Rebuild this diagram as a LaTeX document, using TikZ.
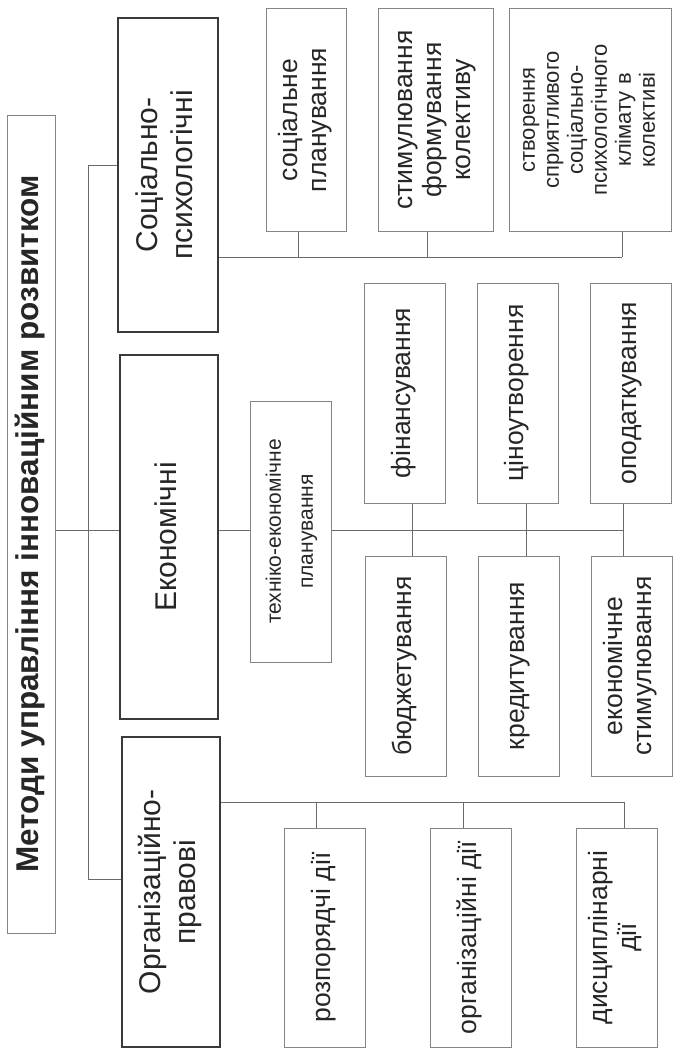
\documentclass[tikz,border=0pt]{standalone}
\usepackage{fontspec}
\setmainfont{Liberation Sans}
\usepackage{graphicx}

\definecolor{boxgray}{HTML}{3A3A3A}
\definecolor{linegray}{HTML}{858585}
\definecolor{linkgray}{HTML}{6A6A6A}
\definecolor{textgray}{HTML}{262626}

\newcommand{\vlabel}[1]{\rotatebox{90}{\begin{tabular}{@{}c@{}}#1\end{tabular}}}
\newcommand{\titlefont}{\fontsize{31.5}{36}\selectfont\bfseries}
\newcommand{\groupfont}{\fontsize{30}{35}\selectfont}
\newcommand{\itemfont}{\fontsize{26.5}{29}\selectfont}
\newcommand{\techfont}{\fontsize{21}{32}\selectfont}
\newcommand{\smallfont}{\fontsize{22}{24}\selectfont}

\tikzset{
  boxsize/.style 2 args={minimum width=#1pt, minimum height=#2pt},
  mainbox/.style={draw=boxgray, line width=2.6pt, inner sep=0pt, text=textgray},
  itembox/.style={draw=linegray, line width=1pt, inner sep=0pt, text=textgray},
  link/.style={draw=linkgray, line width=0.9pt},
}

\begin{document}
\begin{tikzpicture}[x=1pt,y=-1pt]
% Background
\fill[white] (0,0) rectangle (675,1049);
\useasboundingbox (0,0) rectangle (675,1049);

% Title
\node[itembox, boxsize={48}{818}, font=\titlefont] (title) at (31,524) {\vlabel{Методи управління інноваційним розвитком}};

% Method groups
\node[mainbox, boxsize={100}{314}, font=\groupfont] (soc) at (168,175) {\vlabel{Соціально-\\психологічні}};
\node[mainbox, boxsize={98}{364}, font=\groupfont] (econ) at (169,537) {\vlabel{Економічні}};
\node[mainbox, boxsize={98}{310}, font=\groupfont] (org) at (171,892) {\vlabel{Організаційно-\\правові}};

% Social-psychological methods
\node[itembox, boxsize={80}{222}, font=\itemfont] (s1) at (306,120) {\vlabel{соціальне\\планування}};
\node[itembox, boxsize={115}{222}, font=\itemfont] (s2) at (435.5,120) {\vlabel{стимулювання\\формування\\колективу}};
\node[itembox, boxsize={162}{222}, font=\smallfont] (s3) at (590,120) {\vlabel{створення\\сприятливого\\соціально-\\психологічного\\клімату в\\колективі}};

% Economic methods
\node[itembox, boxsize={81}{261}, font=\techfont] (tech) at (290.5,531.5) {\vlabel{техніко-економічне\\планування}};
\node[itembox, boxsize={81}{220}, font=\itemfont] (e1a) at (404.5,393) {\vlabel{фінансування}};
\node[itembox, boxsize={81}{220}, font=\itemfont] (e2a) at (517.5,393) {\vlabel{ціноутворення}};
\node[itembox, boxsize={81}{220}, font=\itemfont] (e3a) at (630.5,393) {\vlabel{оподаткування}};
\node[itembox, boxsize={81}{220}, font=\itemfont] (e1b) at (405.5,666) {\vlabel{бюджетування}};
\node[itembox, boxsize={81}{220}, font=\itemfont] (e2b) at (518.5,666) {\vlabel{кредитування}};
\node[itembox, boxsize={81}{220}, font=\itemfont] (e3b) at (631.5,666) {\vlabel{економічне\\стимулювання}};

% Organisational-legal methods
\node[itembox, boxsize={81}{219}, font=\itemfont] (o1) at (324.5,937.5) {\vlabel{розпорядчі дії}};
\node[itembox, boxsize={81}{219}, font=\itemfont] (o2) at (470.5,937.5) {\vlabel{організаційні дії}};
\node[itembox, boxsize={81}{219}, font=\itemfont] (o3) at (616.5,937.5) {\vlabel{дисциплінарні\\дії}};

% Spine from the title
\coordinate (spine top) at (88,165);
\coordinate (spine bot) at (88,879);
\coordinate (econ bus) at (0,530);
\draw[link] (soc.west |- spine top) -- (spine top) -- (spine bot) -- (org.west |- spine bot);
\draw[link] (title.east |- econ bus) -- (econ.west |- econ bus);

% Social bus
\coordinate (soc bus) at (0,257);
\draw[link] (soc.east |- soc bus) -- ([xshift=32pt]s3.south |- soc bus);
\draw[link] ([xshift=-8pt]s1.south) -- ([xshift=-8pt]s1.south |- soc bus);
\draw[link] ([xshift=-8.5pt]s2.south) -- ([xshift=-8.5pt]s2.south |- soc bus);
\draw[link] ([xshift=32pt]s3.south) -- ([xshift=32pt]s3.south |- soc bus);

% Economic bus
\draw[link] (econ.east |- econ bus) -- (tech.west |- econ bus);
\draw[link] (tech.east |- econ bus) -- ([xshift=-7.5pt]e3a.south |- econ bus);
\draw[link] ([xshift=7.5pt]e1a.south) -- ([xshift=6.5pt]e1b.north);
\draw[link] ([xshift=8.5pt]e2a.south) -- ([xshift=7.5pt]e2b.north);
\draw[link] ([xshift=-7.5pt]e3a.south) -- ([xshift=-8.5pt]e3b.north);

% Organisational bus
\coordinate (org bus) at (0,802);
\draw[link] (org.east |- org bus) -- ([xshift=7.5pt]o3.north |- org bus);
\draw[link] ([xshift=-8.5pt]o1.north) -- ([xshift=-8.5pt]o1.north |- org bus);
\draw[link] ([xshift=-7.5pt]o2.north) -- ([xshift=-7.5pt]o2.north |- org bus);
\draw[link] ([xshift=7.5pt]o3.north) -- ([xshift=7.5pt]o3.north |- org bus);
\end{tikzpicture}
\end{document}
